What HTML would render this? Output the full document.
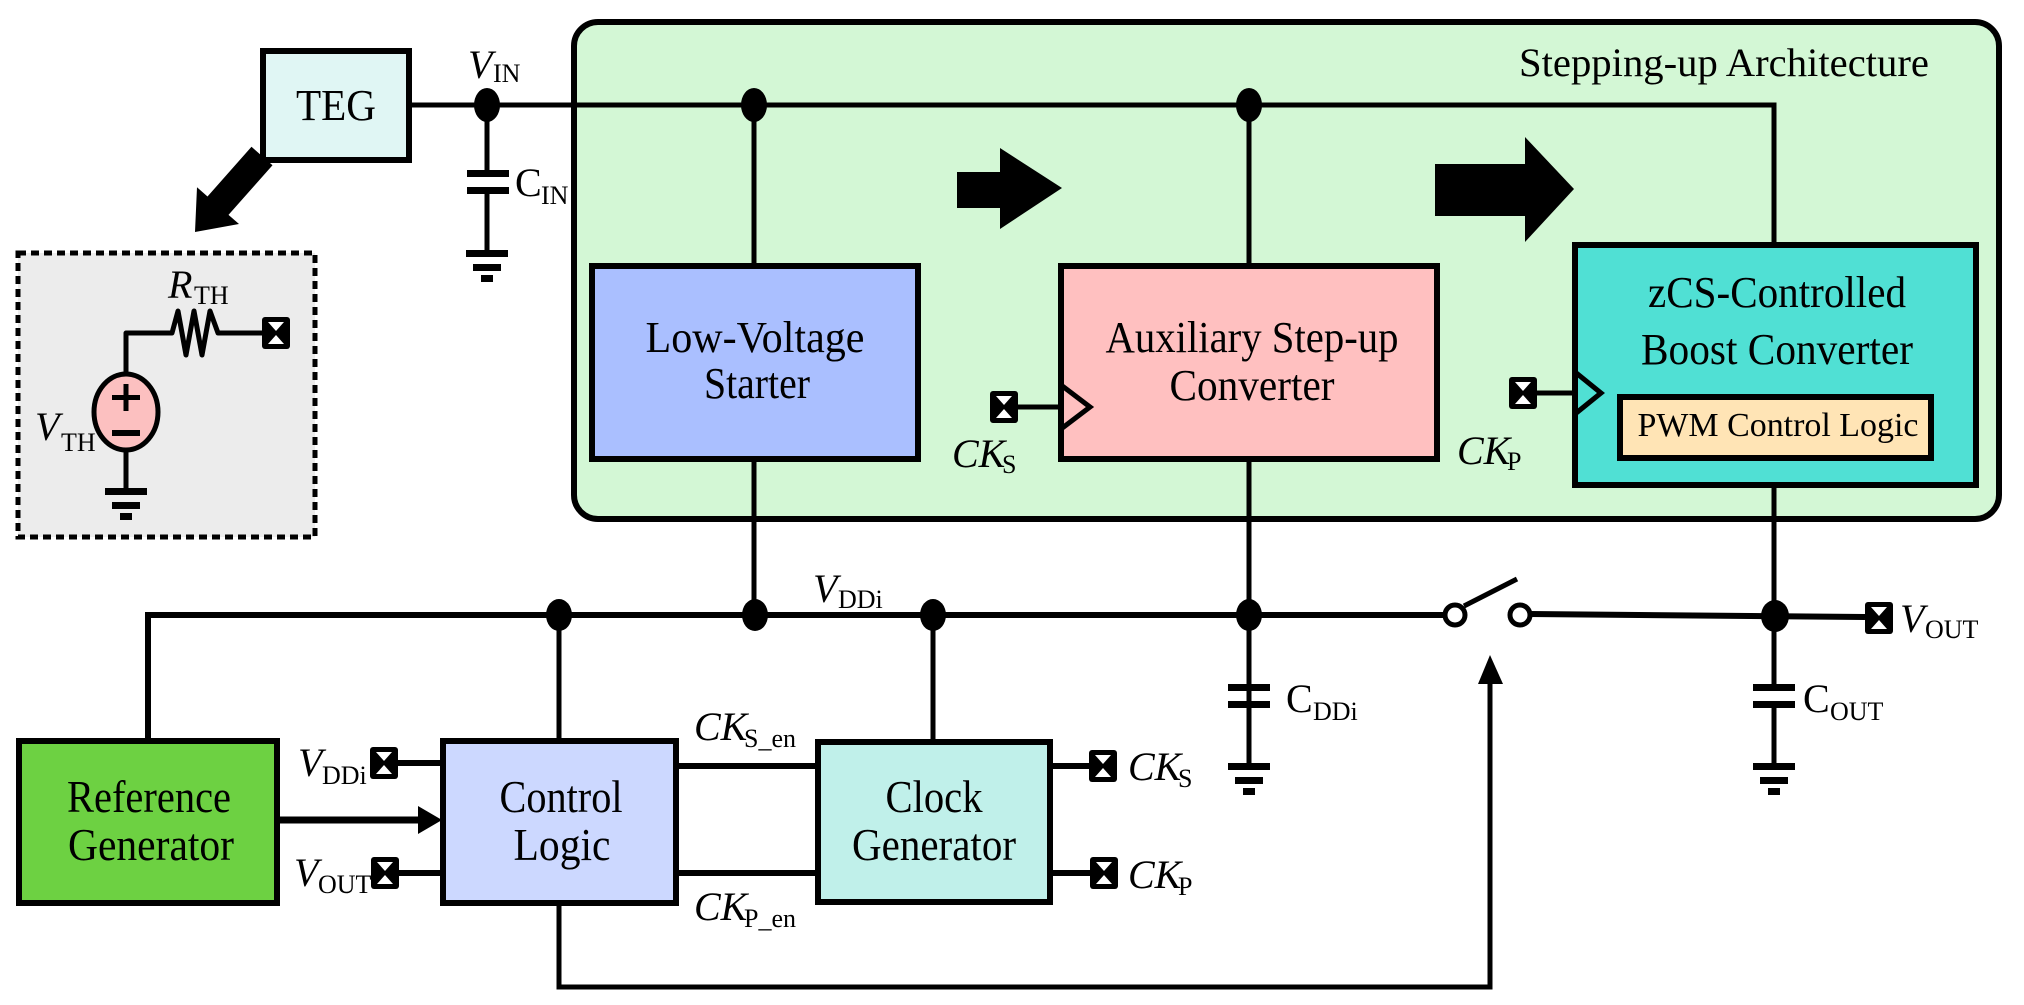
<!DOCTYPE html>
<html><head><meta charset="utf-8"><style>
html,body{margin:0;padding:0;background:#fff;}
svg{display:block;}
svg text{font-family:"Liberation Serif","DejaVu Serif",serif;fill:#000;}
</style></head><body>
<svg width="2024" height="1005" viewBox="0 0 2024 1005" xmlns="http://www.w3.org/2000/svg" font-family="Liberation Serif, serif">
<defs>
<g id="term">
<rect x="-14" y="-16" width="28" height="32" rx="3" fill="#000"/>
<path d="M-8,-11 L8,-11 L0,-2 Z M-8,11 L8,11 L0,2 Z" fill="#fff"/>
</g>
<g id="gnd">
<rect x="-21" y="0" width="42" height="7" fill="#000"/>
<rect x="-14" y="14" width="28" height="7" fill="#000"/>
<rect x="-6" y="25" width="12" height="7" fill="#000"/>
</g>
</defs>

<rect x="574" y="22" width="1425" height="497" rx="24" fill="#d3f7d5" stroke="#000" stroke-width="6"/>
<text x="1519" y="76" font-size="40" textLength="410" lengthAdjust="spacingAndGlyphs">Stepping-up Architecture</text>

<rect x="263" y="51" width="146" height="109" fill="#e0f6f4" stroke="#000" stroke-width="6"/>
<text x="336" y="120" font-size="44" text-anchor="middle" textLength="80" lengthAdjust="spacingAndGlyphs">TEG</text>

<polyline points="409,105 1774,105 1774,243" fill="none" stroke="#000" stroke-width="5"/>
<ellipse cx="487" cy="105" rx="13" ry="17"/>
<ellipse cx="754" cy="105" rx="13" ry="17"/>
<ellipse cx="1249" cy="105" rx="13" ry="17"/>
<text x="468" y="78" font-size="40" font-style="italic">V</text>
<text x="493" y="82" font-size="26">IN</text>

<line x1="487" y1="105" x2="487" y2="252" stroke="#000" stroke-width="5"/>
<rect x="482" y="177" width="10" height="10" fill="#d3f7d5"/>
<rect x="467" y="170" width="42" height="7"/>
<rect x="467" y="187" width="42" height="7"/>
<rect x="482" y="177" width="10" height="10" fill="#fff"/>
<use href="#gnd" x="487" y="250"/>
<text x="515" y="196" font-size="40">C</text>
<text x="541" y="204" font-size="26">IN</text>

<polygon points="272.5,165.2 251.5,146.8 207.5,196.5 197,187.3 195,232 239,224 228.5,214.9" fill="#000"/>

<rect x="18" y="253" width="297" height="284" fill="#ececec" stroke="#000" stroke-width="5" stroke-dasharray="8,5"/>
<polyline points="126,374 126,333 172,333 178,311 186,355 194,311 202,355 210,311 218,333 262,333" fill="none" stroke="#000" stroke-width="5" stroke-linejoin="round"/>
<use href="#term" x="276" y="333"/>
<ellipse cx="126" cy="412" rx="32" ry="38" fill="#fcc0c0" stroke="#000" stroke-width="5"/>
<rect x="112" y="395" width="28" height="5"/>
<rect x="123.5" y="384" width="5" height="27"/>
<rect x="112" y="430" width="28" height="6"/>
<line x1="126" y1="450" x2="126" y2="491" stroke="#000" stroke-width="5"/>
<use href="#gnd" x="126" y="488"/>
<text x="168" y="298" font-size="40" font-style="italic">R</text>
<text x="194" y="304" font-size="26">TH</text>
<text x="35" y="440" font-size="40" font-style="italic">V</text>
<text x="61" y="451" font-size="26">TH</text>

<line x1="754" y1="105" x2="754" y2="617" stroke="#000" stroke-width="5"/>
<rect x="592" y="266" width="326" height="193" fill="#aabfff" stroke="#000" stroke-width="6"/>
<text x="755" y="352" font-size="44" text-anchor="middle" textLength="219" lengthAdjust="spacingAndGlyphs">Low-Voltage</text>
<text x="757" y="398" font-size="44" text-anchor="middle" textLength="106" lengthAdjust="spacingAndGlyphs">Starter</text>

<polygon points="957,172 1000,172 1000,148 1062,188 1000,229 1000,208 957,208"/>
<polygon points="1435,164 1525,164 1525,137 1574,189 1525,242 1525,216 1435,216"/>

<line x1="1249" y1="105" x2="1249" y2="760" stroke="#000" stroke-width="5"/>
<rect x="1061" y="266" width="376" height="193" fill="#ffc0c0" stroke="#000" stroke-width="6"/>
<polyline points="1061,385 1090,407 1061,429" fill="none" stroke="#000" stroke-width="5"/>
<line x1="1014" y1="407" x2="1061" y2="407" stroke="#000" stroke-width="5"/>
<use href="#term" x="1004" y="407"/>
<text x="1252" y="352" font-size="44" text-anchor="middle" textLength="293" lengthAdjust="spacingAndGlyphs">Auxiliary Step-up</text>
<text x="1252" y="400" font-size="44" text-anchor="middle" textLength="165" lengthAdjust="spacingAndGlyphs">Converter</text>
<text x="952" y="467" font-size="40" font-style="italic">CK</text>
<text x="1002" y="473" font-size="26">S</text>

<line x1="1774" y1="486" x2="1774" y2="617" stroke="#000" stroke-width="5"/>
<rect x="1575" y="245" width="401" height="240" fill="#50e0d4" stroke="#000" stroke-width="6"/>
<polyline points="1575,372 1601,393 1575,414" fill="none" stroke="#000" stroke-width="5"/>
<line x1="1532" y1="393" x2="1575" y2="393" stroke="#000" stroke-width="5"/>
<use href="#term" x="1523" y="393"/>
<text x="1777" y="307" font-size="44" text-anchor="middle" textLength="258" lengthAdjust="spacingAndGlyphs">zCS-Controlled</text>
<text x="1777" y="364" font-size="44" text-anchor="middle" textLength="272" lengthAdjust="spacingAndGlyphs">Boost Converter</text>
<rect x="1620" y="397" width="311" height="61" fill="#ffe4b5" stroke="#000" stroke-width="6"/>
<text x="1778" y="436" font-size="34" text-anchor="middle" textLength="281" lengthAdjust="spacingAndGlyphs">PWM Control Logic</text>
<text x="1457" y="464" font-size="40" font-style="italic">CK</text>
<text x="1507" y="470" font-size="26">P</text>

<polyline points="148,738 148,615 1443,615" fill="none" stroke="#000" stroke-width="6"/>
<ellipse cx="559" cy="615" rx="13" ry="16"/>
<ellipse cx="755" cy="615" rx="13" ry="16"/>
<ellipse cx="933" cy="615" rx="13" ry="16"/>
<ellipse cx="1249" cy="615" rx="13" ry="16"/>
<text x="813" y="602" font-size="40" font-style="italic">V</text>
<text x="838" y="608" font-size="26">DDi</text>

<circle cx="1455" cy="615" r="10" fill="#fff" stroke="#000" stroke-width="5"/>
<circle cx="1520" cy="615" r="10" fill="#fff" stroke="#000" stroke-width="5"/>
<line x1="1464" y1="606" x2="1517" y2="579" stroke="#000" stroke-width="5"/>
<line x1="1530" y1="614" x2="1865" y2="617" stroke="#000" stroke-width="6"/>
<ellipse cx="1775" cy="616" rx="14" ry="16"/>
<use href="#term" x="1879" y="618"/>
<text x="1900" y="632" font-size="40" font-style="italic">V</text>
<text x="1925" y="638" font-size="26">OUT</text>

<rect x="1228" y="684" width="42" height="7"/>
<rect x="1228" y="701" width="42" height="7"/>
<line x1="1249" y1="708" x2="1249" y2="765" stroke="#000" stroke-width="5"/>
<use href="#gnd" x="1249" y="763"/>
<text x="1286" y="712" font-size="40">C</text>
<text x="1313" y="720" font-size="26">DDi</text>

<line x1="1774" y1="616" x2="1774" y2="765" stroke="#000" stroke-width="5"/>
<rect x="1753" y="691" width="42" height="10" fill="#fff"/>
<rect x="1753" y="684" width="42" height="7"/>
<rect x="1753" y="701" width="42" height="7"/>
<use href="#gnd" x="1774" y="763"/>
<text x="1803" y="712" font-size="40">C</text>
<text x="1830" y="720" font-size="26">OUT</text>

<rect x="19" y="741" width="258" height="162" fill="#6dd142" stroke="#000" stroke-width="6"/>
<text x="149" y="812" font-size="46" text-anchor="middle" textLength="164" lengthAdjust="spacingAndGlyphs">Reference</text>
<text x="151" y="860" font-size="46" text-anchor="middle" textLength="166" lengthAdjust="spacingAndGlyphs">Generator</text>
<line x1="277" y1="820" x2="422" y2="820" stroke="#000" stroke-width="7"/>
<polygon points="418,806 442,820 418,834"/>

<line x1="559" y1="615" x2="559" y2="741" stroke="#000" stroke-width="5"/>
<rect x="443" y="741" width="233" height="162" fill="#ccd8ff" stroke="#000" stroke-width="6"/>
<text x="561" y="812" font-size="46" text-anchor="middle" textLength="123" lengthAdjust="spacingAndGlyphs">Control</text>
<text x="562" y="860" font-size="46" text-anchor="middle" textLength="97" lengthAdjust="spacingAndGlyphs">Logic</text>
<line x1="397" y1="763" x2="443" y2="763" stroke="#000" stroke-width="6"/>
<line x1="397" y1="873" x2="443" y2="873" stroke="#000" stroke-width="6"/>
<use href="#term" x="384" y="763"/>
<use href="#term" x="385" y="873"/>
<text x="298" y="776" font-size="40" font-style="italic">V</text>
<text x="322" y="784" font-size="26">DDi</text>
<text x="294" y="886" font-size="40" font-style="italic">V</text>
<text x="318" y="893" font-size="26">OUT</text>

<polyline points="559,903 559,987 1490,987 1490,680" fill="none" stroke="#000" stroke-width="5"/>
<polygon points="1478,684 1490,655 1503,684"/>

<line x1="933" y1="615" x2="933" y2="741" stroke="#000" stroke-width="5"/>
<rect x="818" y="742" width="232" height="160" fill="#c0f0ea" stroke="#000" stroke-width="6"/>
<text x="934" y="812" font-size="46" text-anchor="middle" textLength="97" lengthAdjust="spacingAndGlyphs">Clock</text>
<text x="934" y="860" font-size="46" text-anchor="middle" textLength="164" lengthAdjust="spacingAndGlyphs">Generator</text>
<line x1="676" y1="766" x2="818" y2="766" stroke="#000" stroke-width="6"/>
<line x1="676" y1="873" x2="818" y2="873" stroke="#000" stroke-width="6"/>
<text x="694" y="740" font-size="40" font-style="italic">CK</text>
<text x="744" y="747" font-size="26">S_en</text>
<text x="694" y="920" font-size="40" font-style="italic">CK</text>
<text x="744" y="927" font-size="26">P_en</text>
<line x1="1050" y1="766" x2="1090" y2="766" stroke="#000" stroke-width="6"/>
<line x1="1050" y1="873" x2="1090" y2="873" stroke="#000" stroke-width="6"/>
<use href="#term" x="1103" y="766"/>
<use href="#term" x="1104" y="873"/>
<text x="1128" y="780" font-size="40" font-style="italic">CK</text>
<text x="1178" y="787" font-size="26">S</text>
<text x="1128" y="888" font-size="40" font-style="italic">CK</text>
<text x="1178" y="895" font-size="26">P</text>
</svg>
</body></html>
